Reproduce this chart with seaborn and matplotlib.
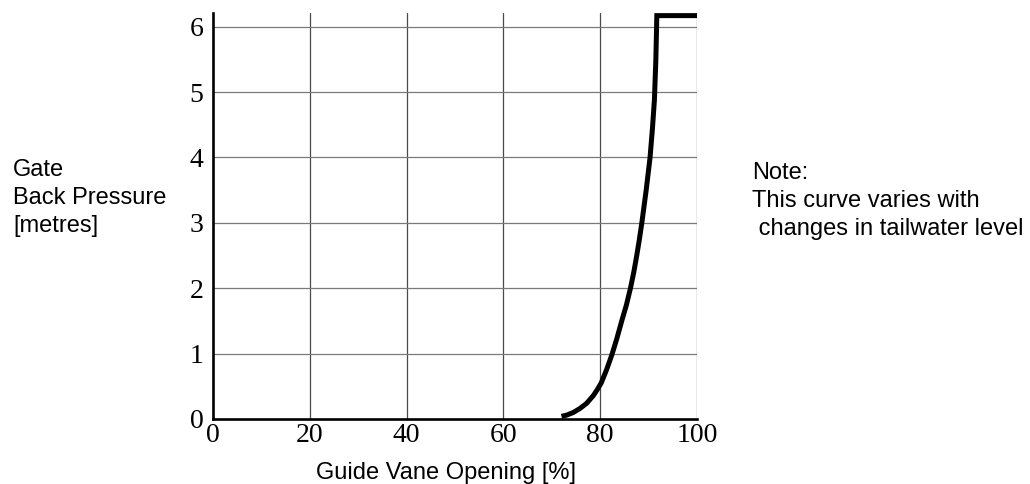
import numpy as np
import pandas as pd
import matplotlib
matplotlib.use("Agg")
import matplotlib.pyplot as plt
import seaborn as sns

# curve: guide vane opening [%] vs back pressure [m]
opening = [72.0, 73.1, 74.45, 75.8, 77.2, 78.6, 79.4, 80.2, 81.3, 82.4, 83.4,
           84.45, 85.4, 86.25, 86.95, 87.55, 88.1, 88.6, 89.5, 90.3, 90.8,
           91.2, 91.5, 91.7, 100.0]
pressure = [0.04, 0.06, 0.10, 0.16, 0.24, 0.36, 0.45, 0.55, 0.75, 0.98, 1.22,
            1.50, 1.74, 2.0, 2.25, 2.5, 2.75, 3.0, 3.5, 4.0, 4.45,
            4.88, 5.5, 6.17, 6.17]

x_ticks = [0, 20, 40, 60, 80, 100]
y_ticks = [0, 1, 2, 3, 4, 5, 6]


def main():
    sns.set_style("white")
    plt.rcParams['font.family'] = ['Liberation Sans', 'DejaVu Sans']
    plt.rcParams['text.color'] = 'black'
    plt.rcParams['xtick.color'] = 'black'
    plt.rcParams['ytick.color'] = 'black'

    df = pd.DataFrame({'opening': opening, 'pressure': pressure})

    fig = plt.figure(figsize=(10.30, 4.84), dpi=100)
    ax = fig.add_axes([213 / 1030, (484 - 419) / 484, (697 - 213) / 1030, (419 - 13) / 484])

    ax.set_xlim(0, 100)
    ax.set_ylim(0, 6.21)

    # grid
    for xv in x_ticks[1:]:
        ax.axvline(xv, color='#4a4a4a', lw=0.9, zorder=1)
    for yv in y_ticks[1:]:
        ax.axhline(yv, color='#7a7a7a', lw=0.9, zorder=1)

    sns.lineplot(data=df, x='opening', y='pressure', sort=False, color='black',
                 lw=3.6, ax=ax, zorder=3, clip_on=False,
                 solid_joinstyle='miter', solid_capstyle='butt')

    for s in ['top', 'right']:
        ax.spines[s].set_visible(False)
    for s in ['left', 'bottom']:
        ax.spines[s].set_linewidth(1.9)
        ax.spines[s].set_color('black')
        ax.spines[s].set_zorder(4)

    ax.set_xticks(x_ticks)
    ax.set_yticks(y_ticks)
    ax.set_xticklabels([str(v) for v in x_ticks], family='Liberation Serif', fontsize=20)
    ax.set_yticklabels([str(v) for v in y_ticks], family='Liberation Serif', fontsize=20)
    ax.tick_params(axis='x', length=0, pad=3, labelcolor='black')
    ax.tick_params(axis='y', length=0, pad=7, labelcolor='black')

    ax.set_xlabel('')
    ax.set_ylabel('')
    fig.text(446 / 1030, 1 - 473 / 484, 'Guide Vane Opening [%]', ha='center', va='center',
             fontsize=17, color='black')
    fig.text(13 / 1030, 1 - 198 / 484, 'Gate\nBack Pressure\n[metres]', ha='left', va='center',
             fontsize=17, linespacing=1.38, color='black')
    fig.text(752 / 1030, 1 - 201 / 484, 'Note:\nThis curve varies with\n changes in tailwater level',
             ha='left', va='center', fontsize=17, linespacing=1.38, color='black')

    plt.savefig('out.png', dpi=100)
    plt.close()


if __name__ == "__main__":
    main()
